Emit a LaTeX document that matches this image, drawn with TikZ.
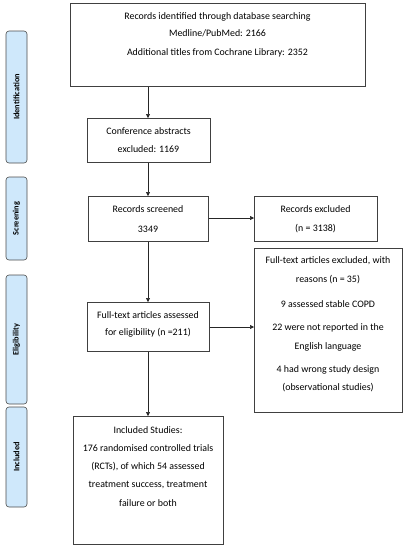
\documentclass[tikz,border=0pt]{standalone}
\usepackage{fontspec}
\setmainfont{Carlito}
\usetikzlibrary{arrows.meta}
\definecolor{stagefill}{RGB}{207,232,251}
\begin{document}
\begin{tikzpicture}[x=1pt,y=-1pt,
  box/.style={draw=black!75,line width=0.6pt,fill=white},
  stage/.style={draw=black!70,line width=0.6pt,fill=stagefill,rounded corners=3pt},
  stagelabel/.style={rotate=90,font=\bfseries\fontsize{8.3}{9}\selectfont},
  txt/.style={font=\fontsize{9.9}{11}\selectfont,anchor=center},
  arr/.style={-{Triangle[length=4pt,width=4pt]},line width=0.6pt,black!85}]
\useasboundingbox (0,0) rectangle (406,550);
% stage bars
\draw[stage] (6,31) rectangle node[stagelabel,black] (sid) {Identification} (27,163);
\draw[stage] (6,177) rectangle node[stagelabel,black] (ssc) {Screening} (27,260);
\draw[stage] (6,275) rectangle node[stagelabel,black] (sel) {Eligibility} (27,404);
\draw[stage] (6,407) rectangle node[stagelabel,black] (sin) {Included} (27,507);
% boxes
\node[box,minimum width=295,minimum height=83,anchor=north west] (top) at (70,3) {};
\node[txt] at (217.5,17) {Records identified through database searching};
\node[txt] at (217.5,33) {Medline/PubMed: 2166};
\node[txt] at (217.5,53) {Additional titles from Cochrane Library: 2352};

\node[box,minimum width=123,minimum height=44,anchor=north west] (conf) at (87,118) {};
\node[txt] at (148.5,131) {Conference abstracts};
\node[txt] at (148.5,149) {excluded: 1169};

\node[box,minimum width=120,minimum height=45,anchor=north west] (scr) at (88,196) {};
\node[txt] at (148,209) {Records screened};
\node[txt] at (148,229) {3349};

\node[box,minimum width=123,minimum height=45,anchor=north west] (rex) at (254,196) {};
\node[txt] at (315.5,209) {Records excluded};
\node[txt] at (315.5,229) {(n = 3138)};

\node[box,minimum width=148,minimum height=164,anchor=north west] (fex) at (254,248) {};
\node[txt] at (328,261) {Full-text articles excluded, with};
\node[txt] at (328,280) {reasons (n = 35)};
\node[txt] at (328,304) {9 assessed stable COPD};
\node[txt] at (328,328) {22 were not reported in the};
\node[txt] at (328,347) {English language};
\node[txt] at (328,370) {4 had wrong study design};
\node[txt] at (328,388) {(observational studies)};

\node[box,minimum width=122,minimum height=49,anchor=north west] (fta) at (87,302) {};
\node[txt] at (148,315) {Full-text articles assessed};
\node[txt] at (148,333) {for eligibility (n =211)};

\node[box,minimum width=150,minimum height=128,anchor=north west] (inc) at (73,416) {};
\node[txt] at (148,430) {Included Studies:};
\node[txt] at (148,448) {176 randomised controlled trials};
\node[txt] at (148,467) {(RCTs), of which 54 assessed};
\node[txt] at (148,485) {treatment success, treatment};
\node[txt] at (148,503) {failure or both};
% arrows
\draw[arr] (top.south -| 148,0) -- (conf.north -| 148,0);
\draw[arr] (conf.south -| 148,0) -- (scr.north -| 148,0);
\draw[arr] (scr.south -| 148,0) -- (fta.north -| 148,0);
\draw[arr] (fta.south -| 148,0) -- (inc.north -| 148,0);
\draw[arr] (scr.east |- 0,218) -- (rex.west |- 0,218);
\draw[arr] (fta.east |- 0,327) -- (fex.west |- 0,327);
\end{tikzpicture}
\end{document}
